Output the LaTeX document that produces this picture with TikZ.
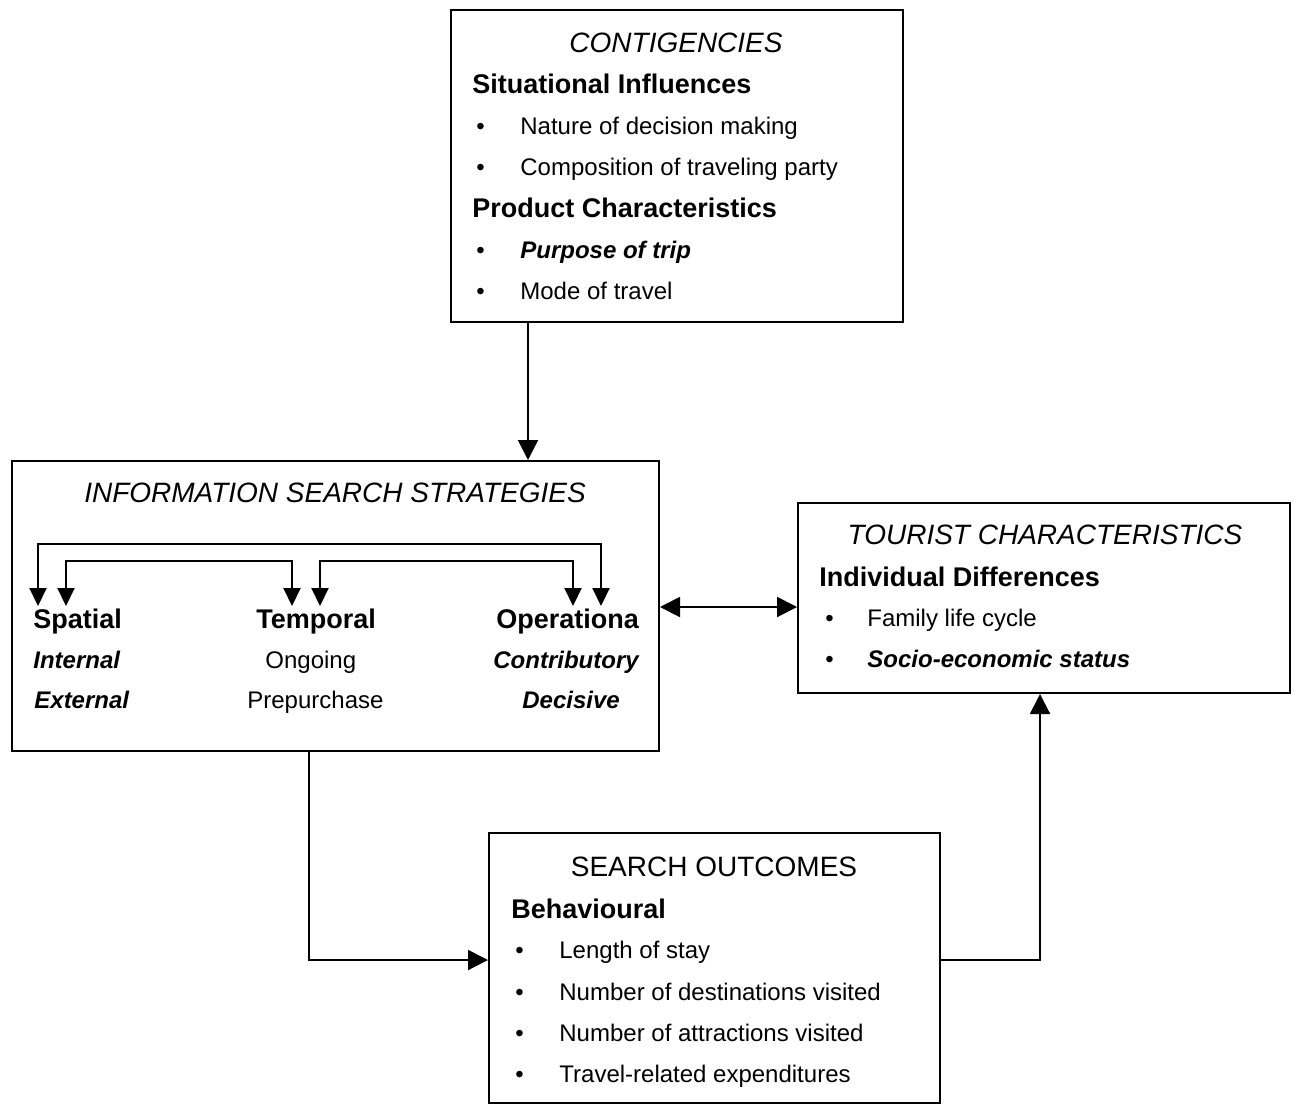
\documentclass[tikz,border=0pt]{standalone}
\usepackage{fontspec}
\setmainfont{Liberation Sans}
\usetikzlibrary{arrows.meta}
\tikzstyle{block} = [rectangle, draw, line width=1pt, inner sep=0pt]
\tikzstyle{boxtitle} = [anchor=base, inner sep=0pt, font=\fontsize{14}{16}\selectfont\itshape]
\tikzstyle{boxhead} = [anchor=base west, inner sep=0pt, font=\fontsize{13.5}{16}\selectfont\bfseries]
\tikzstyle{boxitem} = [anchor=base west, inner sep=0pt, font=\fontsize{12}{14}\selectfont]
\tikzstyle{flow} = [line width=1pt, -{Triangle[length=10pt,width=10pt]}]
\tikzstyle{twoway} = [line width=1pt, {Triangle[length=10pt,width=10pt]}-{Triangle[length=10pt,width=10pt]}]
\tikzstyle{inner} = [line width=1pt, {Triangle[length=9pt,width=8.5pt]}-{Triangle[length=9pt,width=8.5pt]}]
\newcommand{\itembul}[1]{\makebox[#1][l]{\textbullet}}

\begin{document}
\begin{tikzpicture}[x=0.5pt, y=-0.5pt]
   \useasboundingbox (0,0) rectangle (1294,1104);
   % Place boxes
   \node [block, minimum width=226pt, minimum height=156pt] (cont) at (677,166) {};
   \node [block, minimum width=323.5pt, minimum height=145pt] (iss) at (335.5,606) {};
   \node [block, minimum width=246pt, minimum height=95pt] (tourist) at (1044,598) {};
   \node [block, minimum width=225.5pt, minimum height=135pt] (outcome) at (714.5,968) {};

   % Contigencies
   \node [boxtitle] (cont-t) at (676,52) {CONTIGENCIES};
   \node [boxhead] (cont-h1) at (472,93) {Situational Influences};
   \node [boxitem] (cont-1) at (476,134) {\itembul{22pt}Nature of decision making};
   \node [boxitem] (cont-2) at (476,175) {\itembul{22pt}Composition of traveling party};
   \node [boxhead] (cont-h2) at (472,217) {Product Characteristics};
   \node [boxitem] (cont-3) at (476,258) {\itembul{22pt}\textbf{\textit{Purpose of trip}}};
   \node [boxitem] (cont-4) at (476,299) {\itembul{22pt}Mode of travel};

   % Information search strategies
   \node [boxtitle] (iss-t) at (335,502) {INFORMATION SEARCH STRATEGIES};
   \node [boxhead] (spatial) at (33,628) {Spatial};
   \node [boxhead] (temporal) at (256,628) {Temporal};
   \node [boxhead] (operat) at (496,628) {Operationa};
   \node [boxitem] (sp-1) at (33,668) {\textbf{\textit{Internal}}};
   \node [boxitem] (te-1) at (265,668) {Ongoing};
   \node [boxitem] (op-1) at (493,668) {\textbf{\textit{Contributory}}};
   \node [boxitem] (sp-2) at (34,708) {\textbf{\textit{External}}};
   \node [boxitem] (te-2) at (247,708) {Prepurchase};
   \node [boxitem] (op-2) at (522,708) {\textbf{\textit{Decisive}}};
   \coordinate (sp-a) at (38,606);
   \coordinate (sp-b) at (66,606);
   \coordinate (te-a) at (292,606);
   \coordinate (te-b) at (320,606);
   \coordinate (op-a) at (573,606);
   \coordinate (op-b) at (601,606);
   \draw [inner] (sp-a) -- ++(0,-62) -| (op-b);
   \draw [inner] (sp-b) -- ++(0,-45) -| (te-a);
   \draw [inner] (te-b) -- ++(0,-45) -| (op-a);

   % Tourist characteristics
   \node [boxtitle] (tourist-t) at (1045,544) {TOURIST CHARACTERISTICS};
   \node [boxhead] (tourist-h) at (819,586) {Individual Differences};
   \node [boxitem] (tourist-1) at (825,626) {\itembul{21pt}Family life cycle};
   \node [boxitem] (tourist-2) at (825,667) {\itembul{21pt}\textbf{\textit{Socio-economic status}}};

   % Search outcomes
   \node [boxtitle, font=\fontsize{14}{16}\selectfont] (outcome-t) at (714,876) {SEARCH OUTCOMES};
   \node [boxhead] (outcome-h) at (511,918) {Behavioural};
   \node [boxitem] (outcome-1) at (515,958) {\itembul{22pt}Length of stay};
   \node [boxitem] (outcome-2) at (515,1000) {\itembul{22pt}Number of destinations visited};
   \node [boxitem] (outcome-3) at (515,1041) {\itembul{22pt}Number of attractions visited};
   \node [boxitem] (outcome-4) at (515,1082) {\itembul{22pt}Travel-related expenditures};

   % Connectors between boxes
   \draw [flow] (528,0 |- cont.south) -- (528,0 |- iss.north);
   \draw [flow] (309,0 |- iss.south) |- (outcome.west |- 0,960);
   \draw [flow] (outcome.east |- 0,960) -| (1040,0 |- tourist.south);
   \draw [twoway] (iss.east |- 0,607) -- (tourist.west |- 0,607);
\end{tikzpicture}
\end{document}
